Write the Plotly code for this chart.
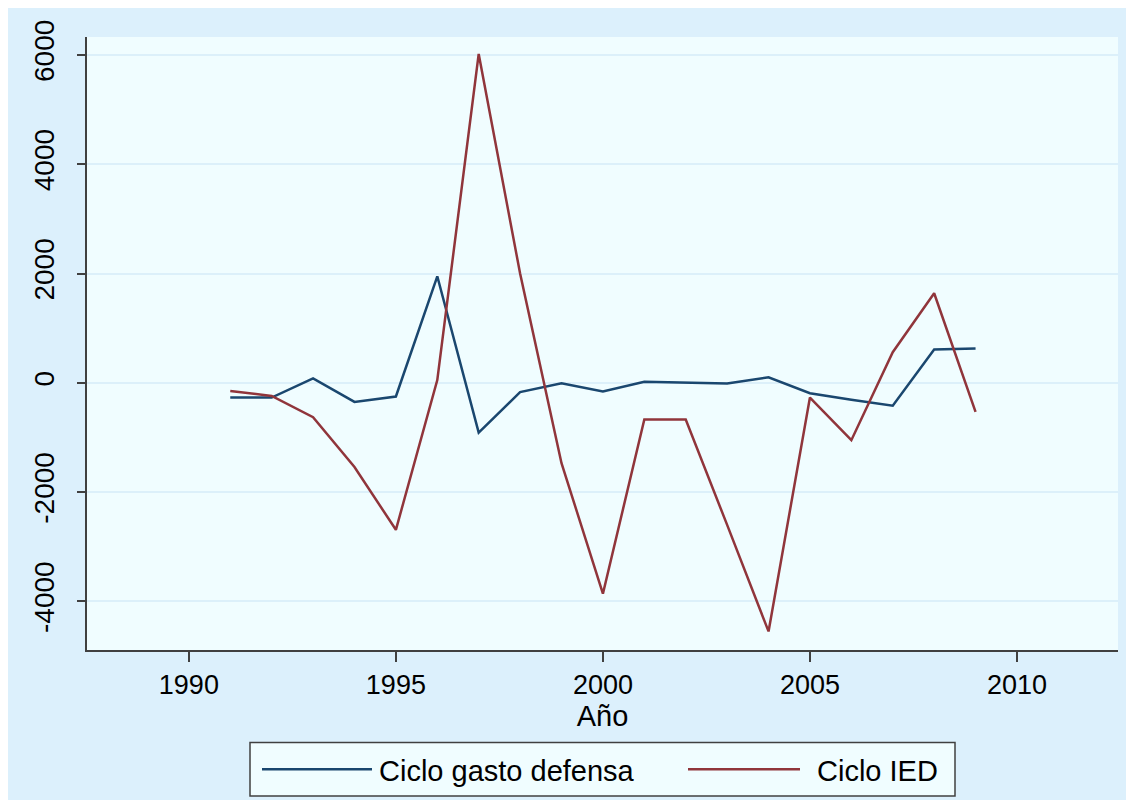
import plotly.graph_objects as go

years = list(range(1991, 2010))
gasto_defensa = [-270, -270, 80, -350, -250, 1950, -910, -170, -10, -160, 20, 10, -10, 100,
                 -190, -310, -420, 610, 630]
ied = [-150, -240, -630, -1540, -2690, 50, 6020, 2000, -1470, -3860, -670, -670, -2600, -4550,
       -270, -1050, 560, 1640, -530]
series_names = ["Ciclo gasto defensa", "Ciclo IED"]
x_ticks = [1990, 1995, 2000, 2005, 2010]
y_ticks = [-4000, -2000, 0, 2000, 4000, 6000]
y_tick_labels = ["-4000", "-2000", "0", "2000", "4000", "6000"]

BLUE = "#1a476f"
RED = "#90353b"
OUTER = "#dcf0fc"
INNER = "#f0fdff"
FONT = "Liberation Sans, Arial, sans-serif"

fig = go.Figure()
fig.add_trace(go.Scatter(x=years, y=gasto_defensa, mode="lines", name=series_names[0],
                         line=dict(color=BLUE, width=2.5), showlegend=False))
fig.add_trace(go.Scatter(x=years, y=ied, mode="lines", name=series_names[1],
                         line=dict(color=RED, width=2.5), showlegend=False))

OFF = 8  # page body margin
W, H = 1134 - OFF, 800 - OFF
L, R, T, B = 87 - OFF, 1118 - OFF, 33 - OFF, 650 - OFF
pw, ph = R - L, B - T


def px(x):  # window pixel -> paper coordinate
    return (x - OFF - L) / pw


def py(y):
    return (B - (y - OFF)) / ph


shapes = [
    dict(type="rect", xref="paper", yref="paper",
         x0=px(250), x1=px(955), y0=py(797), y1=py(743),
         fillcolor=INNER, line=dict(color="#404040", width=1.5)),
    dict(type="line", xref="paper", yref="paper",
         x0=px(262), x1=px(372), y0=py(770), y1=py(770),
         line=dict(color=BLUE, width=2.5)),
    dict(type="line", xref="paper", yref="paper",
         x0=px(688), x1=px(800), y0=py(770), y1=py(770),
         line=dict(color=RED, width=2.5)),
]
annotations = [
    dict(xref="paper", yref="paper", x=px(377), y=py(772), text=series_names[0],
         showarrow=False, xanchor="left", yanchor="middle",
         font=dict(family=FONT, size=29, color="black")),
    dict(xref="paper", yref="paper", x=px(815), y=py(772), text=series_names[1],
         showarrow=False, xanchor="left", yanchor="middle",
         font=dict(family=FONT, size=29, color="black")),
]

fig.update_layout(
    width=W, height=H,
    margin=dict(l=L, r=W - R, t=T, b=H - B, pad=0),
    paper_bgcolor=OUTER,
    plot_bgcolor=INNER,
    font=dict(family=FONT, size=27, color="black"),
    shapes=shapes,
    annotations=annotations,
    showlegend=False,
    xaxis=dict(
        range=[1987.54, 2012.44], tickvals=x_ticks, ticks="outside", ticklen=10,
        tickwidth=1.5, tickcolor="#404040", showline=True, linecolor="#404040",
        linewidth=2, showgrid=False, zeroline=False,
        title=dict(text="Año", standoff=0, font=dict(size=29)),
        tickfont=dict(size=27),
    ),
    yaxis=dict(
        range=[-4890, 6330], tickvals=y_ticks, ticktext=y_tick_labels,
        ticks="outside", ticklen=8,
        tickwidth=1.5, tickcolor="#404040", showline=True, linecolor="#404040",
        linewidth=2, showgrid=True, gridcolor="#dcf0fa", gridwidth=2,
        zeroline=False, tickangle=-90, tickfont=dict(size=28),
        ticklabelstandoff=12,
    ),
)

fig.write_html("out.html")
